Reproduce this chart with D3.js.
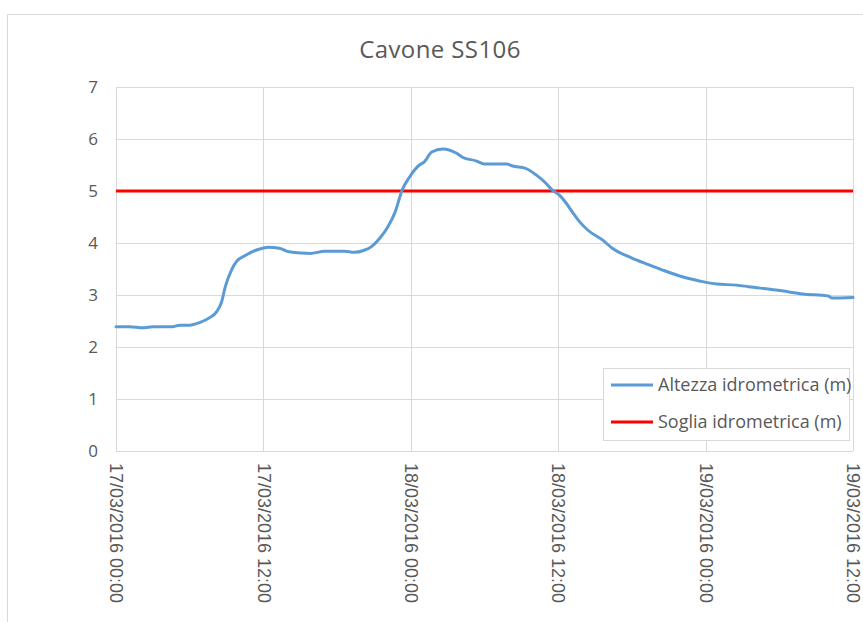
<!DOCTYPE html>
<html>
<head>
<meta charset="utf-8">
<script src="https://cdn.jsdelivr.net/npm/d3@7/dist/d3.min.js"></script>
<style>
  html, body { margin: 0; padding: 0; background: #fff; }
  svg { display: block; }
</style>
</head>
<body>
<svg id="chart" width="863" height="622"></svg>
<script>
// Hydrometric level at Cavone SS106, 17-19 March 2016
const startTime = "2016-03-17T00:00";
// hours elapsed since startTime
const hours = [0, 1.1, 2.2, 3.0, 4.6, 5.2, 6.0, 6.8, 7.6, 8.2, 8.6, 8.9, 9.4, 9.8, 10.6, 11.5,
  12.4, 13.3, 14.1, 15.0, 15.8, 17.0, 18.6, 19.4, 20.2, 20.8, 21.5, 22.1, 22.7, 23.3, 23.9,
  24.7, 25.1, 25.7, 26.6, 27.7, 28.2, 29.3, 30.0, 31.0, 31.8, 32.3, 33.3, 34.2, 35.0, 35.5,
  36.1, 36.7, 37.2, 37.7, 38.4, 39.6, 40.4, 42.0, 43.4, 44.5, 46.1, 47.5, 48.9, 50.5, 51.5,
  54.2, 55.9, 58.0, 58.3, 60.0];
// Altezza idrometrica (m)
const levels = [2.39, 2.39, 2.37, 2.39, 2.39, 2.42, 2.42, 2.47, 2.56, 2.68, 2.87, 3.16, 3.48, 3.64, 3.77, 3.87,
  3.92, 3.90, 3.83, 3.81, 3.80, 3.84, 3.84, 3.82, 3.86, 3.93, 4.10, 4.30, 4.58, 5.02, 5.27,
  5.50, 5.56, 5.75, 5.81, 5.73, 5.65, 5.58, 5.52, 5.52, 5.52, 5.48, 5.44, 5.31, 5.15, 5.02,
  4.92, 4.75, 4.58, 4.42, 4.25, 4.06, 3.90, 3.71, 3.58, 3.48, 3.35, 3.27, 3.21, 3.19, 3.16,
  3.08, 3.02, 2.98, 2.94, 2.95];
// Soglia idrometrica (m)
const threshold = 5;
const yTicks = [0, 1, 2, 3, 4, 5, 6, 7];
const xTickHours = [0, 12, 24, 36, 48, 60];
const seriesNames = ["Altezza idrometrica (m)", "Soglia idrometrica (m)"];
const seriesColors = ["#5b9bd5", "#ff0000"];
const title = "Cavone SS106";

const parse = d3.timeParse("%Y-%m-%dT%H:%M");
const t0 = parse(startTime);
const atHour = h => new Date(t0.getTime() + h * 3600e3);
const fmt = d3.timeFormat("%d/%m/%Y %H:%M");

const svg = d3.select("#chart");
const W = 863, H = 622;
const m = { left: 116, right: W - 853, top: 87, bottom: H - 451 };

// frame of the chart area
svg.append("path")
  .attr("d", `M7.5,${H} V14.5 H${W}`)
  .attr("fill", "none").attr("stroke", "#d9d9d9").attr("stroke-width", 1);

const x = d3.scaleTime().domain([atHour(0), atHour(60)]).range([m.left, W - m.right]);
const y = d3.scaleLinear().domain([0, 7]).range([H - m.bottom, m.top]);

// title
svg.append("text")
  .attr("x", 440).attr("y", 58)
  .attr("text-anchor", "middle")
  .attr("font-family", "'Open Sans', sans-serif")
  .attr("font-size", 24).attr("letter-spacing", 0.4).attr("fill", "#595959")
  .text(title);

// horizontal gridlines + y labels
const yAxis = svg.append("g").attr("transform", `translate(${m.left},0)`)
  .call(d3.axisLeft(y).tickValues(yTicks).tickSize(-(W - m.left - m.right)).tickFormat(d3.format("d")));
yAxis.select(".domain").remove();
yAxis.selectAll(".tick line").attr("stroke", "#d9d9d9").attr("shape-rendering", "crispEdges");
yAxis.selectAll(".tick text")
  .attr("x", -18)
  .attr("font-family", "'Open Sans', sans-serif")
  .attr("font-size", 17).attr("fill", "#595959");

// vertical gridlines + rotated date labels
const xAxis = svg.append("g").attr("transform", `translate(0,${H - m.bottom})`)
  .call(d3.axisBottom(x).tickValues(xTickHours.map(atHour)).tickSize(-(H - m.top - m.bottom)).tickFormat(fmt));
xAxis.select(".domain").remove();
xAxis.selectAll(".tick line").attr("stroke", "#d9d9d9").attr("shape-rendering", "crispEdges");
xAxis.selectAll(".tick text")
  .attr("transform", "rotate(90)")
  .attr("x", 12).attr("y", 0).attr("dy", "0.35em")
  .attr("text-anchor", "start")
  .attr("font-family", "'Liberation Sans', Arial, sans-serif")
  .attr("font-size", 18).attr("fill", "#595959");

// threshold line
svg.append("line")
  .attr("x1", x(atHour(0))).attr("x2", x(atHour(60)))
  .attr("y1", y(threshold)).attr("y2", y(threshold))
  .attr("stroke", seriesColors[1]).attr("stroke-width", 3);

// level line
const line = d3.line()
  .x((d, i) => x(atHour(hours[i])))
  .y(d => y(d))
  .curve(d3.curveMonotoneX);
svg.append("path")
  .datum(levels)
  .attr("d", line)
  .attr("fill", "none")
  .attr("stroke", seriesColors[0])
  .attr("stroke-width", 3)
  .attr("stroke-linejoin", "round")
  .attr("stroke-linecap", "round");

// legend
const lg = svg.append("g").attr("transform", "translate(603,368)");
lg.append("rect").attr("x", 0.5).attr("y", 0.5).attr("width", 246).attr("height", 72)
  .attr("fill", "#fff").attr("stroke", "#d9d9d9");
seriesNames.forEach((name, i) => {
  const cy = 17 + i * 37;
  lg.append("line").attr("x1", 8).attr("x2", 50).attr("y1", cy).attr("y2", cy)
    .attr("stroke", seriesColors[i]).attr("stroke-width", 3);
  lg.append("text").attr("x", 55).attr("y", cy).attr("dy", "0.35em")
    .attr("font-family", "'Open Sans', sans-serif")
    .attr("font-size", 18).attr("fill", "#595959")
    .text(name);
});
</script>
</body>
</html>
